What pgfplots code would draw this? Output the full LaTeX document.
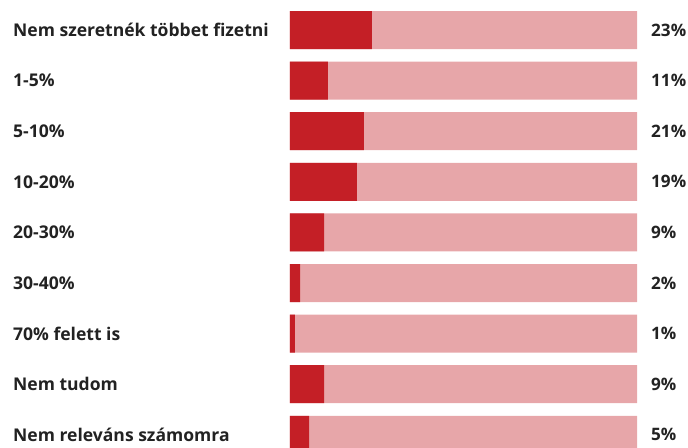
\documentclass[border=0pt]{standalone}
\usepackage{fontspec}
\setmainfont{Open Sans}
\usepackage{pgfplots}
\usepackage{pgfplotstable}
\pgfplotsset{compat=1.18}
\definecolor{darkred}{HTML}{C41F26}
\definecolor{lightred}{HTML}{E7A6A9}
\definecolor{txt}{HTML}{222222}
\pgfplotstableread{
y val full lab
0 23.6 100 23
1 10.9 100 11
2 21.3 100 21
3 19.3 100 19
4 9.8 100 9
5 2.9 100 2
6 1.4 100 1
7 9.8 100 9
8 5.5 100 5
}\datatable
\begin{document}
\begin{tikzpicture}
\begin{axis}[
  name=ax,
  scale only axis,
  width=347bp, height=447bp,
  xmin=0, xmax=100,
  ymin=-0.593, ymax=8.241,
  y dir=reverse,
  axis line style={draw=none},
  xtick=\empty,
  ytick={0,1,2,3,4,5,6,7,8},
  yticklabels={Nem szeretnék többet fizetni,1-5\%,5-10\%,10-20\%,20-30\%,30-40\%,70\% felett is,Nem tudom,Nem releváns számomra},
  major tick length=0pt,
  yticklabel style={anchor=west, inner sep=0pt, xshift=-277bp, font=\fontsize{17.6}{20}\selectfont\bfseries, text=txt},
  xbar, bar width=0.751, bar shift=0pt,
]
\addplot[fill=lightred, draw=none,
  nodes near coords={\pgfplotspointmeta\%},
  point meta=explicit symbolic,
  every node near coord/.append style={anchor=west, inner sep=0pt, xshift=14bp, font=\fontsize{17.2}{20}\selectfont\bfseries, text=txt}]
  table[x=full, y=y, meta=lab]{\datatable};
\addplot[fill=darkred, draw=none] table[x=val, y=y]{\datatable};
\end{axis}
\pgfresetboundingbox
\path[use as bounding box] (ax.south west) ++(-290bp,0) rectangle ([xshift=51bp]ax.north east);
\end{tikzpicture}
\end{document}
